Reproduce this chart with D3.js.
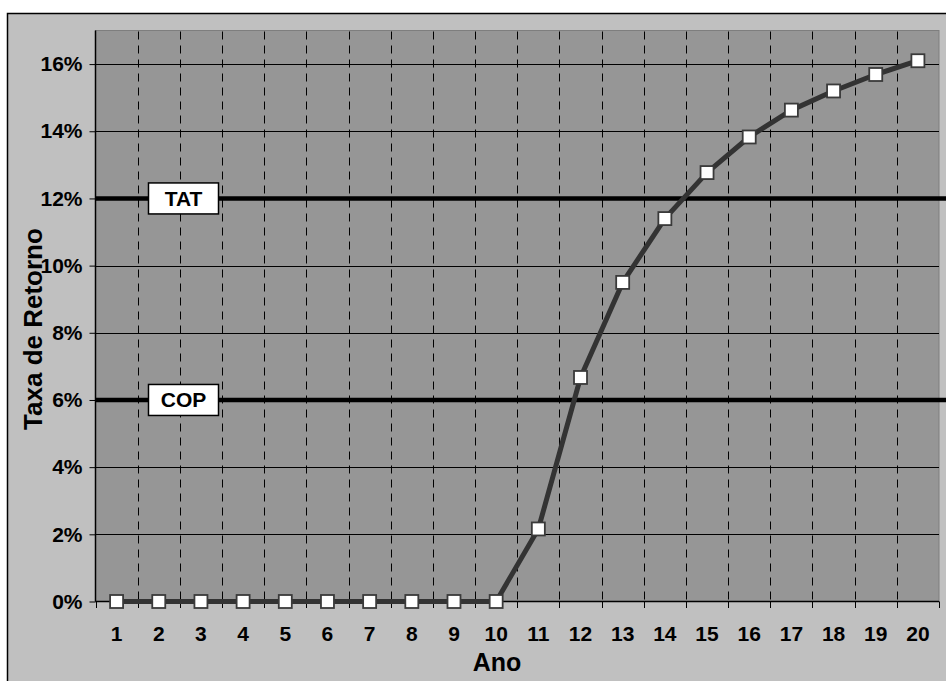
<!DOCTYPE html>
<html>
<head>
<meta charset="utf-8">
<script src="https://cdn.jsdelivr.net/npm/d3@7"></script>
<style>
  html, body { margin: 0; padding: 0; background: #ffffff; }
  svg { display: block; }
  text { font-family: "Liberation Sans", Arial, Helvetica, sans-serif; font-weight: bold; fill: #000; }
</style>
</head>
<body>
<svg id="chart" width="946" height="681"></svg>
<script>
// Years of the projection (categories on the x axis)
const years = ["1","2","3","4","5","6","7","8","9","10","11","12","13","14","15","16","17","18","19","20"];
// Rate of return per year, in percent
const rates = [0, 0, 0, 0, 0, 0, 0, 0, 0, 0, 2.16, 6.67, 9.50, 11.40, 12.77, 13.83, 14.63, 15.20, 15.69, 16.10];
// Reference rates drawn as horizontal lines
const refNames = ["TAT", "COP"];
const refValues = [12, 6];
// Y axis tick values, in percent
const yTicks = [0, 2, 4, 6, 8, 10, 12, 14, 16];

const svg = d3.select("#chart");
const W = 946, H = 681;
const plot = { left: 95.5, top: 30.5, right: 939, bottom: 601.5 };
const tickFont = '"Liberation Sans", Arial, sans-serif';

// Outer chart frame
svg.append("rect")
  .attr("x", 7.5).attr("y", 13.5)
  .attr("width", W + 20).attr("height", H + 20)
  .attr("fill", "#c0c0c0")
  .attr("stroke", "#000").attr("stroke-width", 1.5);

const x = d3.scaleBand().domain(years).range([plot.left, plot.right]);
const xEdge = d3.scaleLinear().domain([0, years.length]).range([plot.left, plot.right]);
const y = d3.scaleLinear().domain([0, 17]).range([plot.bottom, plot.top]);

// Plot area
svg.append("rect")
  .attr("x", plot.left).attr("y", plot.top)
  .attr("width", plot.right - plot.left).attr("height", plot.bottom - plot.top)
  .attr("fill", "#969696")
  .attr("stroke", "#7e7e7e").attr("stroke-width", 1);

// Dashed vertical gridlines between years
const edges = d3.range(1, years.length);
svg.append("g").selectAll("line").data(edges).join("line")
  .attr("x1", d => Math.round(xEdge(d)) + 0.5).attr("x2", d => Math.round(xEdge(d)) + 0.5)
  .attr("y1", plot.top + 1).attr("y2", plot.bottom)
  .attr("stroke", "#000").attr("stroke-width", 1)
  .attr("stroke-dasharray", "8,6");

// Horizontal gridlines
svg.append("g").selectAll("line").data(yTicks.filter(d => d > 0)).join("line")
  .attr("x1", plot.left).attr("x2", plot.right)
  .attr("y1", d => Math.round(y(d)) + 0.5).attr("y2", d => Math.round(y(d)) + 0.5)
  .attr("stroke", "#000").attr("stroke-width", 1);

// Y axis
const yAxis = svg.append("g")
  .attr("transform", `translate(${plot.left},0)`)
  .call(d3.axisLeft(y).tickValues(yTicks).tickSize(6).tickPadding(7).tickFormat(d => d + "%"));
yAxis.select(".domain").attr("stroke", "#000").attr("stroke-width", 1.5).attr("d", `M0,${plot.top}V${plot.bottom}`);
yAxis.selectAll(".tick line").attr("stroke", "#000");
yAxis.selectAll(".tick text").style("font-size", "21px").style("font-weight", "bold")
  .style("font-family", tickFont).attr("fill", "#000");

// X axis: labels centered in each year, ticks on year boundaries
const xAxis = svg.append("g")
  .attr("transform", `translate(0,${plot.bottom})`)
  .call(d3.axisBottom(x).tickSize(0).tickPadding(25));
xAxis.select(".domain").remove();
xAxis.selectAll(".tick text").style("font-size", "21px").style("font-weight", "bold")
  .style("font-family", tickFont).attr("fill", "#000");
svg.append("line")
  .attr("x1", plot.left).attr("x2", plot.right)
  .attr("y1", plot.bottom).attr("y2", plot.bottom)
  .attr("stroke", "#000").attr("stroke-width", 1.5);
svg.append("g").selectAll("line").data(d3.range(0, years.length + 1)).join("line")
  .attr("x1", d => Math.round(xEdge(d)) + 0.5).attr("x2", d => Math.round(xEdge(d)) + 0.5)
  .attr("y1", plot.bottom).attr("y2", plot.bottom + 6.5)
  .attr("stroke", "#000").attr("stroke-width", 1);

// Reference lines (TAT, COP) with labelled boxes
const refs = refNames.map((n, i) => ({ name: n, value: refValues[i] }));
const refG = svg.append("g").selectAll("g").data(refs).join("g");
refG.append("line")
  .attr("x1", plot.left).attr("x2", W)
  .attr("y1", d => y(d.value)).attr("y2", d => y(d.value))
  .attr("stroke", "#000").attr("stroke-width", 4.5);
refG.append("rect")
  .attr("x", 148.5).attr("y", d => y(d.value) - 15.5)
  .attr("width", 70).attr("height", 31)
  .attr("fill", "#fff").attr("stroke", "#000").attr("stroke-width", 1.5);
refG.append("text")
  .attr("x", 183.5).attr("y", d => y(d.value) + 7.5)
  .attr("text-anchor", "middle")
  .style("font-size", "21px")
  .text(d => d.name);

// Rate of return series
const pts = years.map((yr, i) => ({ yr, v: rates[i] }));
svg.append("path")
  .datum(pts)
  .attr("fill", "none")
  .attr("stroke", "#333333").attr("stroke-width", 5)
  .attr("stroke-linejoin", "round")
  .attr("d", d3.line().x(d => x(d.yr) + x.bandwidth() / 2).y(d => y(d.v)));

svg.append("g").selectAll("rect").data(pts).join("rect")
  .attr("x", d => x(d.yr) + x.bandwidth() / 2 - 6.5)
  .attr("y", d => y(d.v) - 6.5)
  .attr("width", 13).attr("height", 13)
  .attr("fill", "#fff").attr("stroke", "#3a3a3a").attr("stroke-width", 1.8);

// Axis titles
svg.append("text")
  .attr("x", 497).attr("y", 671)
  .attr("text-anchor", "middle")
  .style("font-size", "25px")
  .text("Ano");
svg.append("text")
  .attr("transform", "translate(42,329) rotate(-90)")
  .attr("text-anchor", "middle")
  .style("font-size", "26px")
  .text("Taxa de Retorno");
</script>
</body>
</html>
